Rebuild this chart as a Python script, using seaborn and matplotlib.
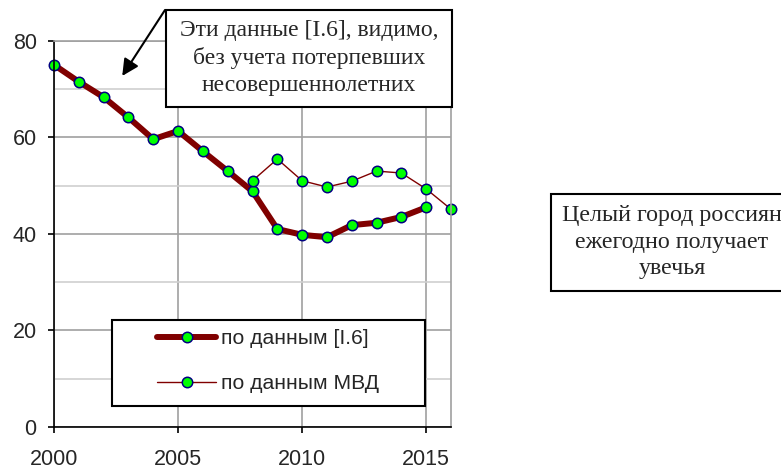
import matplotlib
matplotlib.use("Agg")
import matplotlib.pyplot as plt
from matplotlib.patches import Rectangle
from matplotlib.ticker import MultipleLocator, FixedLocator
import seaborn as sns

# data (thousands of victims?)
years_l6 = [2000, 2001, 2002, 2003, 2004, 2005, 2006, 2007,
            2008, 2009, 2010, 2011, 2012, 2013, 2014, 2015]
values_l6 = [75.0, 71.5, 68.3, 64.1, 59.6, 61.3, 57.1, 53.0,
             48.8, 41.0, 39.8, 39.3, 41.8, 42.3, 43.5, 45.5]
years_mvd = [2008, 2009, 2010, 2011, 2012, 2013, 2014, 2015, 2016]
values_mvd = [51.0, 55.5, 51.0, 49.7, 50.9, 53.0, 52.6, 49.3, 45.1]

label_l6 = "по данным [I.6]"
label_mvd = "по данным МВД"
xtick_years = [2000, 2005, 2010, 2015]
xtick_labels = ["2000", "2005", "2010", "2015"]

note_left = "Эти данные [I.6], видимо,\nбез учета потерпевших\nнесовершеннолетних"
note_right = "Целый город россиян\nежегодно получает\nувечья"

W, H = 781, 468


def fx(px):
    return px / W


def fy(py):
    return 1 - py / H


sns.set_style("white")
plt.rcParams['font.family'] = ['Liberation Sans', 'DejaVu Sans']
serif = ['Liberation Serif', 'DejaVu Serif']

fig = plt.figure(figsize=(W / 100, H / 100), dpi=100)
ax = fig.add_axes([fx(54), fy(427), fx(451) - fx(54), fy(40.7) - fy(427)])

marker_kw = dict(marker='o', markersize=7.5, markerfacecolor='#00FF00',
                 markeredgecolor='#000080', markeredgewidth=1.1, clip_on=False)
sns.lineplot(x=years_l6, y=values_l6, ax=ax, color='#800000', linewidth=4.3,
             solid_capstyle='round', label=label_l6, **marker_kw)
sns.lineplot(x=years_mvd, y=values_mvd, ax=ax, color='#800000', linewidth=1.0,
             label=label_mvd, **marker_kw)

ax.set_xlim(2000, 2016)
ax.set_ylim(0, 80)
ax.set_xlabel("")
ax.set_ylabel("")
ax.xaxis.set_major_locator(FixedLocator(xtick_years))
ax.set_xticklabels(xtick_labels)
ax.yaxis.set_major_locator(MultipleLocator(20))
ax.yaxis.set_minor_locator(MultipleLocator(10))

ax.set_axisbelow(True)
ax.grid(which='major', color='#A0A0A0', linewidth=1.2)
ax.grid(which='minor', axis='y', color='#CFCFCF', linewidth=1.2)

for side in ['left', 'bottom']:
    ax.spines[side].set_color('black')
    ax.spines[side].set_linewidth(1.2)
for side in ['top', 'right']:
    ax.spines[side].set_color('#A0A0A0')
    ax.spines[side].set_linewidth(1.2)

ax.tick_params(which='major', bottom=True, left=True, direction='out',
               length=4.5, width=1.2, color='black', labelsize=15.5)
ax.tick_params(axis='y', pad=8)
ax.tick_params(axis='x', pad=11)
ax.tick_params(which='minor', length=0)

# legend, with its own frame
handles, labels = ax.get_legend_handles_labels()
ax.add_patch(Rectangle((fx(112), fy(406)), fx(425) - fx(112), fy(320) - fy(406),
                       transform=fig.transFigure, facecolor='white',
                       edgecolor='black', linewidth=1.5, zorder=4, clip_on=False))
ax.legend(handles, labels, loc='upper left', bbox_to_anchor=(fx(157), fy(329)),
          bbox_transform=fig.transFigure, frameon=False, borderpad=0,
          borderaxespad=0, handlelength=2.8, handletextpad=0.25,
          labelspacing=1.25, fontsize=15.2)

# notes
fig.add_artist(Rectangle((fx(166), fy(107)), fx(452) - fx(166), fy(10) - fy(107),
                         transform=fig.transFigure, facecolor='white',
                         edgecolor='black', linewidth=1.5, zorder=3))
fig.text(fx(309), fy(58), note_left, ha='center', va='center',
         family=serif, fontsize=17, linespacing=1.35, zorder=4)

fig.add_artist(Rectangle((fx(551), fy(291)), fx(800) - fx(551), fy(194) - fy(291),
                         transform=fig.transFigure, facecolor='white',
                         edgecolor='black', linewidth=1.5, zorder=3))
fig.text(fx(672), fy(242), note_right, ha='center', va='center',
         family=serif, fontsize=17.3, linespacing=1.35, zorder=4)

ax.annotate('', xy=(2002.75, 72.7), xycoords='data',
            xytext=(fx(165), fy(10)), textcoords='figure fraction',
            arrowprops=dict(arrowstyle='-|>', color='black', lw=1.5,
                            mutation_scale=25, shrinkA=0, shrinkB=0),
            annotation_clip=False)

fig.savefig("out.png", dpi=100)
